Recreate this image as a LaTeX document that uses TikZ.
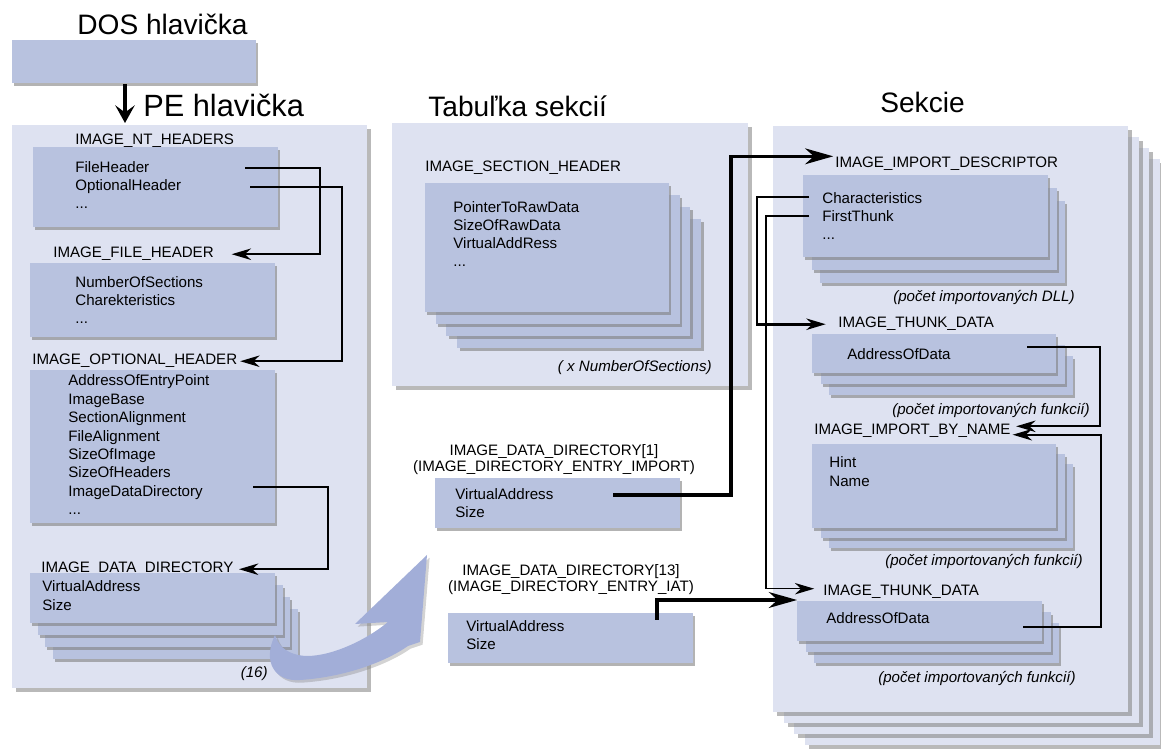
\documentclass[tikz,border=0pt]{standalone}
\usepackage{fontspec}
\setmainfont{Liberation Sans}
\usetikzlibrary{arrows.meta,shadows}

\definecolor{panelfill}{HTML}{DEE2F1}
\definecolor{fieldfill}{HTML}{B8C2DF}
\definecolor{swooshfill}{HTML}{A2AED8}

\def\moredots{...}

% pile of equal boxes: back layers first, front box last
\def\fieldstack[#1](#2,#3)(#4,#5)(#6:#7:#8){%
  \foreach \k in {#6,...,1}
    \path[#1] ({#2+\k*#7},{#3+\k*#8}) rectangle ({#4+\k*#7},{#5+\k*#8});
  \path[#1] (#2,#3) rectangle (#4,#5);}

\tikzset{
  panel/.style={fill=panelfill, drop shadow={shadow xshift=2.2pt, shadow yshift=-2.2pt, opacity=0.55}},
  field/.style={fill=fieldfill, drop shadow={shadow xshift=1.4pt, shadow yshift=-1.8pt, opacity=0.6}},
  lbl/.style={font=\fontsize{8.6}{10}\selectfont, inner sep=0pt, anchor=base west},
  note/.style={font=\fontsize{8.6}{10}\selectfont\itshape, inner sep=0pt, anchor=base east},
  title/.style={font=\fontsize{16}{19}\selectfont, inner sep=0pt, anchor=base west},
  link/.style={line width=1.3pt, -{Stealth[length=11pt,width=6.5pt,inset=3.5pt]}},
  heavylink/.style={line width=1.9pt, -{Stealth[length=16pt,width=9pt,inset=5pt]}},
  swoosh/.style={fill=swooshfill, drop shadow={shadow xshift=1.5pt, shadow yshift=-1.5pt, opacity=0.35}}
}

\begin{document}
\begin{tikzpicture}[x=0.02cm,y=-0.02cm]
	\useasboundingbox (0,0) rectangle (1161,749);
	
	%%%%% DOS header %%%%%
	\node[title] (dos) at (77,35) {DOS hlavička};
	\path[field] (12,40) rectangle (256,83);
	\coordinate (dos-out) at (125,84);
	
	%%%%% PE header %%%%%
	\path[panel] (12,125) rectangle (367,688);
	\coordinate (pe-in) at (125,123);
	\draw[heavylink, -{Stealth[length=10pt,width=11pt,inset=4pt]}] (dos-out) -- (pe-in);
	\node[title, font=\fontsize{17.5}{20}\selectfont] (pe) at (143,117) {PE hlavička};
	
	\node[lbl] (nthdr) at (75,145) {IMAGE\_NT\_HEADERS};
	\path[field] (33,147) rectangle (278,227);
	\foreach \t [count=\i] in {FileHeader,OptionalHeader,\moredots}
		\node[lbl] (nt\i) at (75,{173+18*(\i-1)}) {\t};
	
	\node[lbl] (fhdr) at (53,258) {IMAGE\_FILE\_HEADER};
	\path[field] (30,263) rectangle (275,337);
	\foreach \t [count=\i] in {NumberOfSections,Charekteristics,\moredots}
		\node[lbl] (fh\i) at (75,{288+18*(\i-1)}) {\t};
	
	\node[lbl] (ohdr) at (32,365) {IMAGE\_OPTIONAL\_HEADER};
	\path[field] (30,370) rectangle (275,523);
	\foreach \t [count=\i] in {AddressOfEntryPoint,ImageBase,SectionAlignment,FileAlignment,SizeOfImage,SizeOfHeaders,ImageDataDirectory,\moredots}
		\node[lbl] (oh\i) at (68,{386+18.4*(\i-1)}) {\t};
	
	\node[lbl] (ddhdr) at (41,573) {IMAGE\_DATA\_DIRECTORY};
	\fieldstack[field](30,573)(275,623)(3:7.5:12)
	\node[lbl] (dd1) at (42,592) {VirtualAddress};
	\node[lbl] (dd2) at (42,611) {Size};
	\node[note] (dd-count) at (268,678) {(16)};
	
	\coordinate (fh-out) at (245,168);
	\draw[link] (fh-out) -- (320,168) |- ([xshift=10pt]fhdr.east);
	\coordinate (oh-out) at (250,187);
	\draw[link] (oh-out) -- (342,187) |- ([xshift=1.5pt]ohdr.east);
	\coordinate (idd-out) at (253,487);
	\draw[link] (idd-out) -- (328,487) |- ([xshift=3pt]ddhdr.east);
	
	%%%%% section table %%%%%
	\path[panel] (392,123) rectangle (748,386);
	\node[title] (sect) at (428,117) {Tabuľka sekcií};
	\node[lbl] (shdr) at (425,172) {IMAGE\_SECTION\_HEADER};
	\fieldstack[field](425,183)(669,312)(3:10.7:12)
	\foreach \t [count=\i] in {PointerToRawData,SizeOfRawData,VirtualAddRess,\moredots}
		\node[lbl] (sh\i) at (453,{213+18*(\i-1)}) {\t};
	\node[note] (sh-count) at (712,372) {( x NumberOfSections)};
	
	%%%%% data directory entries %%%%%
	\node[lbl, anchor=base] (imphdr) at (554,456) {IMAGE\_DATA\_DIRECTORY[1]};
	\node[lbl, anchor=base] (impsub) at (554,472) {(IMAGE\_DIRECTORY\_ENTRY\_IMPORT)};
	\path[field] (435,478) rectangle (680,528);
	\node[lbl] (imp1) at (455,500) {VirtualAddress};
	\node[lbl] (imp2) at (455,518) {Size};
	
	\node[lbl, anchor=base] (iathdr) at (571,576) {IMAGE\_DATA\_DIRECTORY[13]};
	\node[lbl, anchor=base] (iatsub) at (571,592) {(IMAGE\_DIRECTORY\_ENTRY\_IAT)};
	\path[field] (448,613) rectangle (693,663);
	\node[lbl] (iat1) at (466,632) {VirtualAddress};
	\node[lbl] (iat2) at (466,650) {Size};
	
	%%%%% sections %%%%%
	\fieldstack[panel](773,126)(1128,712)(3:10.7:11)
	\node[title] (sekc) at (880,113) {Sekcie};
	
	\node[lbl] (idhdr) at (835,168) {IMAGE\_IMPORT\_DESCRIPTOR};
	\fieldstack[field](803,175)(1048,257)(2:8.5:13)
	\foreach \t [count=\i] in {Characteristics,FirstThunk,\moredots}
		\node[lbl] (id\i) at (822,{204+18*(\i-1)}) {\t};
	\node[note] (id-count) at (1075,302) {(počet importovaných DLL)};
	
	\node[lbl] (thahdr) at (838,328) {IMAGE\_THUNK\_DATA};
	\fieldstack[field](812,334)(1056,373)(2:8.5:11)
	\node[lbl] (tha1) at (847,360) {AddressOfData};
	\node[note] (tha-count) at (1090,415) {(počet importovaných funkcií)};
	
	\node[lbl] (ibnhdr) at (814,435) {IMAGE\_IMPORT\_BY\_NAME};
	\fieldstack[field](812,444)(1056,528)(2:8.5:10)
	\foreach \t [count=\i] in {Hint,Name}
		\node[lbl] (ibn\i) at (829,{468+19*(\i-1)}) {\t};
	\node[note] (ibn-count) at (1083,566) {(počet importovaných funkcií)};
	
	\node[lbl] (thbhdr) at (823,596) {IMAGE\_THUNK\_DATA};
	\fieldstack[field](797,601)(1042,641)(2:8.5:11)
	\node[lbl] (thb1) at (826,624) {AddressOfData};
	\node[note] (thb-count) at (1076,683) {(počet importovaných funkcií)};
	
	%%%%% pointers %%%%%
	\coordinate (imp-out) at (613,495);
	\draw[heavylink] (imp-out) -- (731,495) |- ([xshift=-1pt,yshift=4.5pt]idhdr.west);
	\coordinate (iat-out) at (657,620);
	\coordinate (thb-box) at (797,600);
	\draw[heavylink] (iat-out) |- (thb-box);
	
	\coordinate (chr-out) at (809,197);
	\draw[link, line width=1.5pt] (chr-out) -- (757,197) |- ([xshift=-7pt]thahdr.west);
	\coordinate (ft-out) at (809,216);
	\draw[link, line width=0.9pt] (ft-out) -- (766,216) |- ([xshift=-5pt,yshift=2pt]thbhdr.west);
	
	\coordinate (tha-out) at (1027,347);
	\draw[link] (tha-out) -- (1100,347) |- ([xshift=3pt,yshift=2.8pt]ibnhdr.east);
	\coordinate (thb-out) at (1023,627);
	\draw[link] (thb-out) -- (1101,627) |- ([xshift=1pt,yshift=-2pt]ibnhdr.east);
	
	%%%%% big curved arrow %%%%%
	\path[swoosh] (275,635) .. controls (262,662) and (275,682) .. (300,680)
		.. controls (345,677) and (385,662) .. (408,646)
		-- (420,642) -- (427,555) -- (355,624) -- (388,622)
		.. controls (360,645) and (320,660) .. (298,655)
		.. controls (285,652) and (278,645) .. (275,635) -- cycle;
	
\end{tikzpicture}
\end{document}
